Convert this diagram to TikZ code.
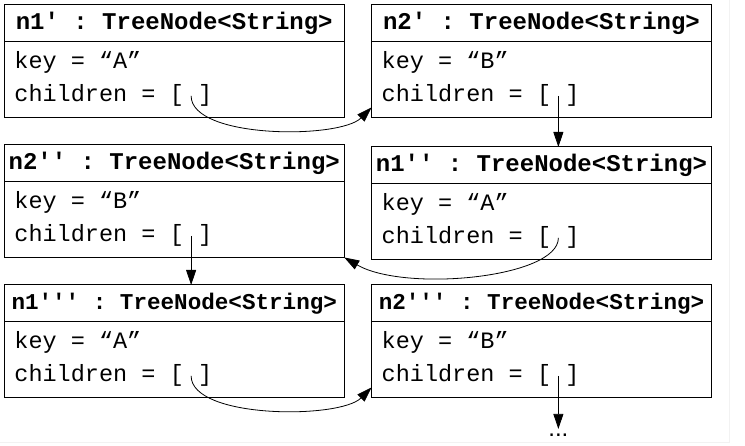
\documentclass[tikz,border=0pt]{standalone}
\usepackage{fontspec}
\setmainfont{Liberation Sans}
\setmonofont{Liberation Mono}
\usetikzlibrary{positioning,arrows.meta}

\begin{document}
\begin{tikzpicture}[x=1pt,y=1pt,
    head/.style={draw,line width=1pt,outer sep=0pt,inner sep=0pt,minimum width=340pt,minimum height=37pt,
      font=\ttfamily\bfseries\fontsize{24}{28}\selectfont},
    narrow/.style={font=\ttfamily\bfseries\fontsize{22.6}{28}\selectfont},
    body/.style={draw,line width=1pt,outer sep=0pt,minimum width=340pt,minimum height=75.5pt},
    attr/.style={inner sep=0pt,anchor=base west,font=\ttfamily\fontsize{23.5}{28}\selectfont},
    link/.style={->,line width=0.8pt},
    >={Triangle[length=15pt,width=10pt]}]
  \useasboundingbox (0,0) rectangle (745,446);
  \draw[gray!10,line width=1pt] (729.5,446) -- (729.5,3.5) -- (0,3.5);

  % n1'
  \node[head] (a1) at (174.25,422.5) {n1' : TreeNode<String>};
  \node[body,below=0pt of a1] (a1body) {};
  \node[attr] (a1key) at ([shift={(10,-27)}]a1body.north west) {key = “A”};
  \node[attr] (a1ch) at ([shift={(10,-60)}]a1body.north west) {children = \null};
  \node[attr] (a1list) at (a1ch.base east) {[\ ]};
  % n2'
  \node[head] (b1) at (541.5,422.5) {n2' : TreeNode<String>};
  \node[body,below=0pt of b1] (b1body) {};
  \node[attr] (b1key) at ([shift={(10,-27)}]b1body.north west) {key = “B”};
  \node[attr] (b1ch) at ([shift={(10,-60)}]b1body.north west) {children = \null};
  \node[attr] (b1list) at (b1ch.base east) {[\ ]};
  % n2''
  \node[head] (b2) at (174.25,282.5) {n2'' : TreeNode<String>};
  \node[body,below=0pt of b2] (b2body) {};
  \node[attr] (b2key) at ([shift={(10,-27)}]b2body.north west) {key = “B”};
  \node[attr] (b2ch) at ([shift={(10,-60)}]b2body.north west) {children = \null};
  \node[attr] (b2list) at (b2ch.base east) {[\ ]};
  % n1''
  \node[head] (a2) at (541.5,280.5) {n1'' : TreeNode<String>};
  \node[body,below=0pt of a2] (a2body) {};
  \node[attr] (a2key) at ([shift={(10,-27)}]a2body.north west) {key = “A”};
  \node[attr] (a2ch) at ([shift={(10,-60)}]a2body.north west) {children = \null};
  \node[attr] (a2list) at (a2ch.base east) {[\ ]};
  % n1'''
  \node[head,narrow] (a3) at (174.25,142.5) {n1''' : TreeNode<String>};
  \node[body,below=0pt of a3] (a3body) {};
  \node[attr] (a3key) at ([shift={(10,-27)}]a3body.north west) {key = “A”};
  \node[attr] (a3ch) at ([shift={(10,-60)}]a3body.north west) {children = \null};
  \node[attr] (a3list) at (a3ch.base east) {[\ ]};
  % n2'''
  \node[head,narrow] (b3) at (541.5,142.5) {n2''' : TreeNode<String>};
  \node[body,below=0pt of b3] (b3body) {};
  \node[attr] (b3key) at ([shift={(10,-27)}]b3body.north west) {key = “B”};
  \node[attr] (b3ch) at ([shift={(10,-60)}]b3body.north west) {children = \null};
  \node[attr] (b3list) at (b3ch.base east) {[\ ]};
  \node[below=53pt of b3list.center,inner sep=5pt,font=\fontsize{24}{28}\selectfont] (more) {...};

  % links
  \draw[link] (a1list.center) to[out=-90,in=225,out distance=43pt,in distance=45pt] ([yshift=10pt]b1body.south west);
  \draw[link] (b1list.center) -- (b1list.center |- a2.north);
  \draw[link] (a2list.center) to[out=-90,in=-30,out distance=40pt,in distance=70pt] (b2body.south east);
  \draw[link] (b2list.center) -- (b2list.center |- a3.north);
  \draw[link] (a3list.center) to[out=-90,in=225,out distance=43pt,in distance=45pt] ([yshift=10pt]b3body.south west);
  \draw[link] (b3list.center) -- (more);
\end{tikzpicture}
\end{document}
